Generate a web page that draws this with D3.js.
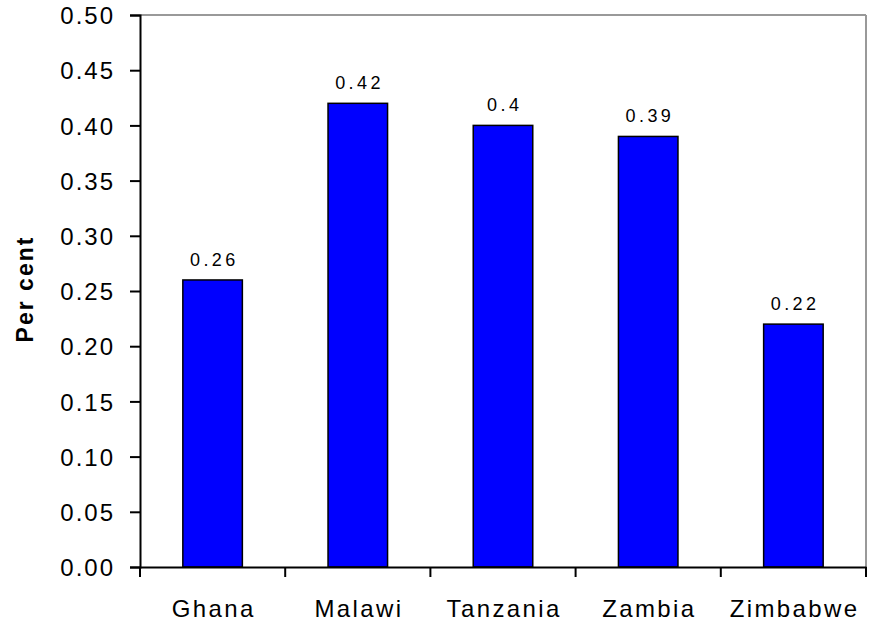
<!DOCTYPE html>
<html>
<head>
<meta charset="utf-8">
<script src="https://cdn.jsdelivr.net/npm/d3@7"></script>
<style>
  html, body { margin: 0; padding: 0; background: #fff; }
  svg { display: block; }
  text { font-family: "Liberation Sans", Arial, Helvetica, sans-serif; fill: #000; }
</style>
</head>
<body>
<svg id="chart" width="869" height="628"></svg>
<script>
const categories = ["Ghana", "Malawi", "Tanzania", "Zambia", "Zimbabwe"];
const values = [0.26, 0.42, 0.40, 0.39, 0.22];
const valueLabels = ["0.26", "0.42", "0.4", "0.39", "0.22"];
const yTicks = [0, 0.05, 0.10, 0.15, 0.20, 0.25, 0.30, 0.35, 0.40, 0.45, 0.50];
const yTitle = "Per cent";

(function () {
const svg = d3.select("#chart");
const pL = 140, pR = 866, pT = 15, pB = 567;

const x = d3.scaleBand().domain(categories).range([pL, pR]).paddingInner(0).paddingOuter(0);
const y = d3.scaleLinear().domain([0, 0.5]).range([pB, pT]);
const barW = x.bandwidth() * 0.41;

// frame top & right (grey)
svg.append("line").attr("x1", pL).attr("x2", pR).attr("y1", pT).attr("y2", pT)
  .attr("stroke", "#999").attr("stroke-width", 2);
svg.append("line").attr("x1", pR).attr("x2", pR).attr("y1", pT).attr("y2", pB)
  .attr("stroke", "#999").attr("stroke-width", 2);

// bars
svg.append("g").selectAll("rect").data(categories).join("rect")
  .attr("x", (d) => x(d) + x.bandwidth() / 2 - barW / 2)
  .attr("y", (d, i) => y(values[i]))
  .attr("width", barW)
  .attr("height", (d, i) => y(0) - y(values[i]))
  .attr("fill", "#0000ff")
  .attr("stroke", "#000")
  .attr("stroke-width", 1.5);

// value labels
svg.append("g").selectAll("text").data(categories).join("text")
  .attr("x", (d) => x(d) + x.bandwidth() / 2 + 1.7)
  .attr("y", (d, i) => y(values[i]) - 14)
  .attr("text-anchor", "middle")
  .attr("font-size", 18)
  .attr("letter-spacing", 3.4)
  .text((d, i) => valueLabels[i]);

// y axis
const yAxis = d3.axisLeft(y).tickValues(yTicks).tickFormat(d3.format(".2f")).tickSize(10).tickPadding(15);
const yg = svg.append("g").attr("transform", `translate(${pL},0)`).call(yAxis);
yg.select(".domain").attr("stroke", "#000").attr("stroke-width", 2);
yg.selectAll(".tick line").attr("stroke", "#000").attr("stroke-width", 2);
yg.selectAll(".tick text").attr("font-size", 24).attr("letter-spacing", 2)
  .attr("font-family", "'Liberation Sans', Arial, sans-serif").attr("fill", "#000").attr("dy", "0.36em");

// x axis
const xAxis = d3.axisBottom(x).tickSize(0).tickPadding(0).tickFormat("");
const xg = svg.append("g").attr("transform", `translate(0,${pB})`).call(xAxis);
xg.select(".domain").attr("stroke", "#000").attr("stroke-width", 2);
xg.selectAll(".tick").remove();
// boundary ticks
const bounds = categories.map((d) => x(d)).concat([pR]);
xg.selectAll("line.bt").data(bounds).join("line").attr("class", "bt")
  .attr("x1", (d) => d).attr("x2", (d) => d).attr("y1", 0).attr("y2", 10)
  .attr("stroke", "#000").attr("stroke-width", 2);
xg.selectAll("text.cl").data(categories).join("text").attr("class", "cl")
  .attr("x", (d) => x(d) + x.bandwidth() / 2 + 1.2)
  .attr("y", 50)
  .attr("text-anchor", "middle")
  .attr("font-size", 24)
  .attr("letter-spacing", 2.4)
  .attr("font-family", "'Liberation Sans', Arial, sans-serif")
  .attr("fill", "#000")
  .text((d) => d);

// y title
svg.append("text")
  .attr("transform", `translate(33,289) rotate(-90)`)
  .attr("text-anchor", "middle")
  .attr("font-size", 23)
  .attr("font-weight", "bold")
  .attr("letter-spacing", 2)
  .text(yTitle);
})();
</script>
</body>
</html>
